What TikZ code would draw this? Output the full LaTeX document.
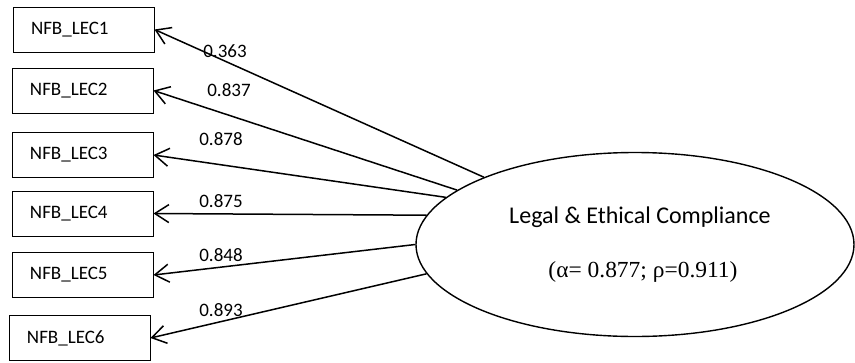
\documentclass[tikz,border=0pt]{standalone}
\usepackage{fontspec}
\setmainfont{Carlito}
\newfontfamily\greekserif[FakeStretch=1.02]{Liberation Serif}
\usetikzlibrary{shapes.geometric,arrows.meta}
\begin{document}
\begin{tikzpicture}[x=1pt,y=-1pt,
  itembox/.style={draw,line width=1pt,minimum height=45pt,inner xsep=18pt,
    text width=105pt,align=left,font=\fontsize{19}{22}\selectfont},
  construct/.style={draw,ellipse,line width=1.4pt,minimum width=438pt,
    minimum height=184pt,inner sep=0pt},
  loading/.style={draw,line width=1.5pt,
    -{Straight Barb[length=14pt,width=18pt,line width=1.5pt]}},
  weight/.style={inner sep=0pt,font=\fontsize{19}{22}\selectfont}]
\useasboundingbox (0,0) rectangle (855,362);

% indicator boxes
\node[itembox] (b1) at (83.5,29.5) {NFB\_LEC1};
\node[itembox] (b2) at (82.5,90.5) {NFB\_LEC2};
\node[itembox] (b3) at (82.5,155) {NFB\_LEC3};
\node[itembox] (b4) at (82.5,213.5) {NFB\_LEC4};
\node[itembox] (b5) at (82.5,275) {NFB\_LEC5};
\node[itembox] (b6) at (79.5,338) {NFB\_LEC6};

% latent construct
\node[construct] (lec) at (635,244.5) {};
\node[inner sep=0pt,font=\fontsize{24}{28}\selectfont] (title) at (640,217)
  {Legal \& Ethical Compliance};
\node[inner sep=0pt,font=\greekserif\fontsize{23}{27}\selectfont] (stats) at (643,272)
  {(α= 0.877; ρ=0.911)};

% loadings
\draw[loading] (lec.156.1) -- (b1.east);
\draw[loading] (lec.163.2) -- (b2.east);
\draw[loading] (lec.166.4) -- (b3.east);
\draw[loading] (lec.172.3) -- (b4.east);
\draw[loading] (lec.180) -- (b5.east);
\draw[loading] (lec.188.9) -- (b6.east);

\node[weight] (w1) at (225,51) {0.363};
\node[weight] (w2) at (229,90) {0.837};
\node[weight] (w3) at (221,139) {0.878};
\node[weight] (w4) at (221,201) {0.875};
\node[weight] (w5) at (221,255) {0.848};
\node[weight] (w6) at (221,310) {0.893};
\end{tikzpicture}
\end{document}
